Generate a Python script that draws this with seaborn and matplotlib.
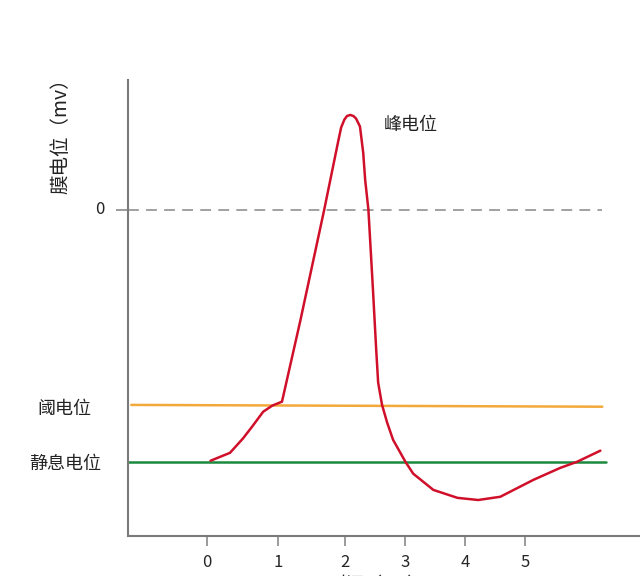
import matplotlib
matplotlib.use("Agg")
import matplotlib.pyplot as plt
import seaborn as sns
import pandas as pd

sns.set_style("white")
plt.rcParams['font.family'] = ['Noto Sans CJK SC', 'DejaVu Sans']

# 动作电位曲线 (时间坐标, 膜电位 mV)
time_ms = [0.05, 0.35, 0.55, 0.70, 0.86, 1.00, 1.15, 1.43, 1.80, 2.02, 2.06,
           2.11, 2.15, 2.20, 2.25, 2.29, 2.35, 2.40, 2.43, 2.48, 2.55, 2.60,
           2.63, 2.69, 2.77, 2.86, 3.05, 3.17, 3.48, 3.85, 4.17, 4.51, 5.02,
           5.43, 5.69, 6.05]
potential_mv = [-69.7, -67.5, -63.5, -60.0, -56.1, -54.4, -53.3, -31.0, 0.0, 19.4, 22.8,
                25.0, 26.0, 26.3, 26.0, 25.3, 23.1, 15.8, 8.3, 0.0, -22.2, -38.9,
                -48.0, -54.2, -59.2, -63.9, -70.0, -73.3, -77.8, -80.0, -80.6, -79.7, -75.0,
                -71.7, -70.0, -66.9]

# 参考线
zero_level = 0
threshold_level = [-54.2, -54.7]
rest_level = -70
line_start = [-1.22, -1.17, -1.22]
line_end = [6.08, 6.08, 6.14]

# 刻度
x_tick_pos = [0, 1.09, 2.12, 3.05, 3.97, 4.89]
x_tick_labels = ["0", "1", "2", "3", "4", "5"]
y_tick_pos = [0, -55.2, -70.5]
y_tick_labels = ["0", "阈电位", "静息电位"]
y_label_x = [-0.055, -0.125, -0.123]   # 标签中心, 轴坐标

df = pd.DataFrame({"t": time_ms, "v": potential_mv})

fig = plt.figure(figsize=(6.4, 5.76), dpi=100)
ax = fig.add_axes([0.2, 0.0694, 0.8, 0.7917])

ax.plot([line_start[0], line_end[0]], [zero_level, zero_level],
        color="#9a9a9a", lw=1.3, dashes=(6, 4))
ax.plot([line_start[1], line_end[1]], threshold_level, color="#f3a93a", lw=1.8)
ax.plot([line_start[2], line_end[2]], [rest_level, rest_level], color="#1b8a3e", lw=1.8)

sns.lineplot(data=df, x="t", y="v", sort=False, estimator=None,
             color="#d0102a", lw=1.8, ax=ax)

ax.text(2.71, 23.6, "峰电位", fontsize=13, va="center", ha="left", color="#222222")

ax.set_xlim(-1.22, 6.66)
ax.set_ylim(-90.6, 36)

ax.set_xticks(x_tick_pos)
ax.set_xticklabels(x_tick_labels, fontsize=12)
ax.tick_params(axis="x", direction="out", length=7, width=1.2, color="#8a8a8a",
               pad=6, bottom=True)

# y 轴刻度: 只有 0 有刻度线, 标签单独放置
ax.set_yticks([zero_level])
ax.set_yticklabels([""])
ax.tick_params(axis="y", direction="out", length=9, width=1.2, color="#8a8a8a", left=True)
for yv, lab, xa in zip(y_tick_pos, y_tick_labels, y_label_x):
    ax.text(xa, yv, lab, fontsize=13 if lab != "0" else 12, ha="center", va="center",
            transform=ax.get_yaxis_transform(), color="#222222")

ax.set_xlabel("")
ax.set_ylabel("膜电位（mv）", fontsize=14, color="#222222")
ax.yaxis.set_label_coords(-0.111, 0.888)

for side in ["top", "right"]:
    ax.spines[side].set_visible(False)
for side in ["left", "bottom"]:
    ax.spines[side].set_color("#7a7a7a")
    ax.spines[side].set_linewidth(1.5)

# 横轴标题在原图中被底边裁掉, 只露出顶部
fig.text(0.59, 0.0, "时间（ms）", fontsize=13, ha="center", va="top")

fig.savefig("out.png", dpi=100)
